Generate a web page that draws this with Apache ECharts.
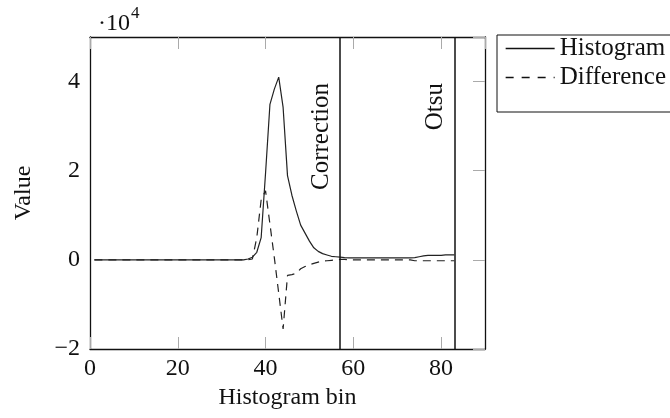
<!DOCTYPE html>
<html>
<head>
<meta charset="utf-8">
<script src="https://cdn.jsdelivr.net/npm/echarts@6/dist/echarts.min.js"></script>
<style>
html,body{margin:0;padding:0;background:#fff;}
#chart{width:670px;height:418px;}
</style>
</head>
<body>
<div id="chart"></div>
<script>
// Histogram bins (x) and values in units of 10^4
const bins = [];
for (let i = 1; i <= 83; i++) bins.push(i);

const histogram = [
  0,0,0,0,0,0,0,0,0,0,            // 1-10
  0,0,0,0,0,0,0,0,0,0,            // 11-20
  0,0,0,0,0,0,0,0,0,0,            // 21-30
  0,0,0,0,0,0.02,0.06,0.17,0.5,1.95, // 31-40
  3.49,3.83,4.1,3.42,1.89,1.45,1.1,0.78,0.6,0.42, // 41-50
  0.27,0.19,0.14,0.11,0.08,0.07,0.06,0.05,0.045,0.045, // 51-60
  0.045,0.045,0.045,0.045,0.045,0.045,0.045,0.045,0.045,0.045, // 61-70
  0.045,0.045,0.045,0.05,0.07,0.09,0.1,0.1,0.1,0.1, // 71-80
  0.11,0.11,0.11                  // 81-83
];

const difference = [
  0,0,0,0,0,0,0,0,0,0,
  0,0,0,0,0,0,0,0,0,0,
  0,0,0,0,0,0,0,0,0,0,
  0,0,0,0,0,0,0.02,0.5,1.35,1.55,
  0.8,0.05,-0.75,-1.55,-0.35,-0.33,-0.3,-0.2,-0.15,-0.11,
  -0.08,-0.05,-0.03,-0.02,-0.01,0,0.01,0.01,0,0,
  0,0,0,0,0,0,0,0,0,0,
  0,0,0,-0.02,-0.02,-0.02,-0.02,-0.02,-0.02,-0.02,
  -0.02,-0.02,-0.02
];

const markerBins = [57, 83];
const markerNames = ['Correction', 'Otsu'];
const markerLabelTop = 4.1;

const xTicks = [0, 20, 40, 60, 80];
const yTicks = [-2, 0, 2, 4];

const FONT = '"Liberation Serif", "DejaVu Serif", serif';

const histData = bins.map((b, i) => [b, histogram[i]]);
const diffData = bins.map((b, i) => [b, difference[i]]);

const fullLines = markerBins.map(b => [
  {coord: [b, -2]}, {coord: [b, 5]}
]);
const labelLines = markerBins.map((b, i) => [
  {coord: [b, -2], name: markerNames[i]}, {coord: [b, markerLabelTop]}
]);

const tickStyle = {show: true, inside: true, length: 12, lineStyle: {color: '#aaa', width: 1}};

const chart = echarts.init(document.getElementById('chart'), null, {renderer: 'canvas'});
chart.setOption({
  animation: false,
  backgroundColor: '#fff',
  textStyle: {fontFamily: FONT, color: '#111'},
  title: {
    text: '{a|·10}{b|4}',
    left: 93, top: 0,
    textStyle: {
      fontWeight: 'normal',
      rich: {
        a: {fontFamily: FONT, fontSize: 24, fontWeight: 'normal', color: '#111', verticalAlign: 'bottom'},
        b: {fontFamily: FONT, fontSize: 17, fontWeight: 'normal', color: '#111', verticalAlign: 'top', padding: [0, 0, 14, 1]}
      }
    }
  },
  legend: {
    orient: 'vertical',
    left: 497, top: 35,
    itemWidth: 49, itemHeight: 14, itemGap: 4,
    padding: [1, 20, 22, 8],
    borderColor: '#111', borderWidth: 1,
    itemStyle: {opacity: 0},
    textStyle: {fontFamily: FONT, fontSize: 25, color: '#111'},
    data: [
      {name: 'Histogram', lineStyle: {type: 'solid', width: 1.3, color: '#111'}},
      {name: 'Difference', lineStyle: {type: [8, 8], width: 1.3, color: '#111'}}
    ]
  },
  grid: {left: 90, right: 185, top: 37, bottom: 69, containLabel: false,
         show: false},
  xAxis: [{
    type: 'value', min: 0, max: 90, interval: 20, position: 'bottom',
    name: 'Histogram bin', nameLocation: 'middle', nameGap: 34,
    nameTextStyle: {fontFamily: FONT, fontSize: 24, color: '#111'},
    axisLine: {show: true, onZero: false, lineStyle: {color: '#111', width: 1.3}},
    axisTick: tickStyle,
    axisLabel: {fontFamily: FONT, fontSize: 24, color: '#111', margin: 8, showMaxLabel: false,
      formatter: v => xTicks.includes(v) ? String(v) : ''},
    splitLine: {show: false}
  }, {
    type: 'value', min: 0, max: 90, interval: 20, position: 'top',
    axisLine: {show: true, onZero: false, lineStyle: {color: '#111', width: 1.3}},
    axisTick: tickStyle,
    axisLabel: {show: false},
    splitLine: {show: false}
  }],
  yAxis: [{
    type: 'value', min: -2, max: 5, interval: 2, position: 'left',
    name: 'Value', nameLocation: 'middle', nameGap: 54, nameRotate: 90,
    nameTextStyle: {fontFamily: FONT, fontSize: 24, color: '#111'},
    axisLine: {show: true, onZero: false, lineStyle: {color: '#111', width: 1.3}},
    axisTick: {show: false},
    axisLabel: {fontFamily: FONT, fontSize: 24, color: '#111', margin: 10, showMaxLabel: false,
      formatter: v => yTicks.includes(v) ? (v < 0 ? '\u2212' + Math.abs(v) : String(v)) : ''},
    splitLine: {show: false}
  }, {
    type: 'value', min: -2, max: 5, interval: 2, position: 'right',
    axisLine: {show: true, onZero: false, lineStyle: {color: '#111', width: 1.3}},
    axisTick: tickStyle,
    axisLabel: {show: false},
    splitLine: {show: false}
  }],
  series: [{
    name: 'Histogram', type: 'line', data: histData,
    symbol: 'none', smooth: false,
    lineStyle: {color: '#222', width: 1.2, type: 'solid'},
    itemStyle: {color: '#222'},
    z: 3,
    markLine: {
      silent: true, symbol: ['none', 'none'],
      lineStyle: {color: '#111', width: 1.5, type: 'solid'},
      label: {show: false},
      data: fullLines
    }
  }, {
    name: 'Difference', type: 'line', data: diffData,
    symbol: 'none', smooth: false,
    lineStyle: {color: '#222', width: 1.2, type: [8, 6]},
    itemStyle: {color: '#222'},
    z: 3,
    markLine: {
      silent: true, symbol: ['none', 'none'],
      lineStyle: {color: 'rgba(0,0,0,0)', width: 0, type: 'solid'},
      label: {show: true, position: 'insideEndTop', distance: 6,
        formatter: p => p.name,
        fontFamily: FONT, fontSize: 25, color: '#111'},
      data: labelLines
    }
  }]
});
</script>
</body>
</html>
